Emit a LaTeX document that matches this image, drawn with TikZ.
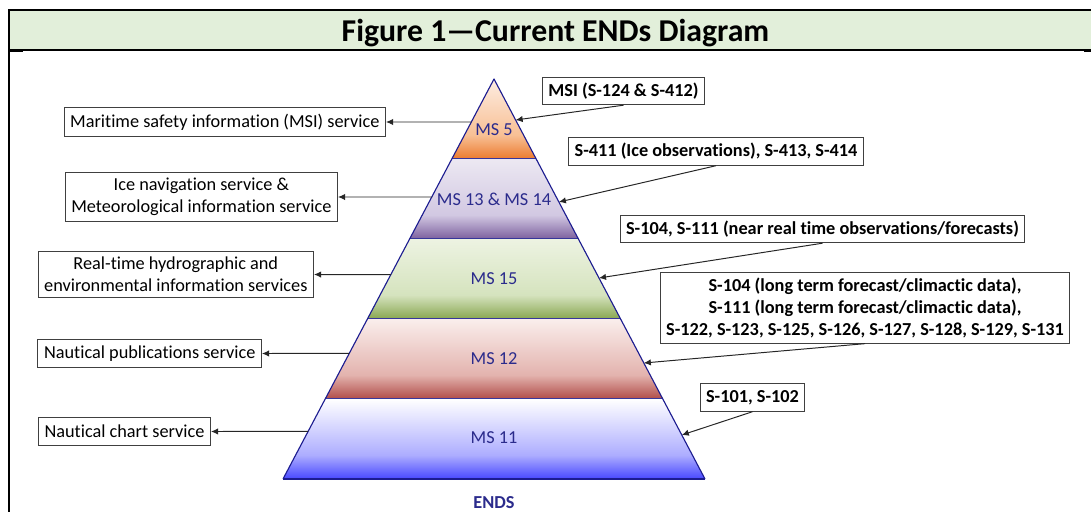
\documentclass[tikz,border=0pt]{standalone}
\usepackage{fontspec}
\setmainfont{Carlito}[Ligatures=NoCommon]
\usetikzlibrary{arrows.meta,calc}

\definecolor{bargreen}{HTML}{E2EFDA}
\definecolor{labelblue}{HTML}{2B2B8C}
\definecolor{edgeblue}{HTML}{1C1C90}
\definecolor{boxgray}{HTML}{404040}
\definecolor{fiveA}{HTML}{FDEDE2}
\definecolor{fiveB}{HTML}{F8C095}
\definecolor{fiveC}{HTML}{EC7A2E}
\definecolor{thirteenA}{HTML}{ECE8F2}
\definecolor{thirteenB}{HTML}{D2C8E2}
\definecolor{thirteenC}{HTML}{7C609E}
\definecolor{fifteenA}{HTML}{EDF3E2}
\definecolor{fifteenB}{HTML}{D5E3BE}
\definecolor{fifteenC}{HTML}{88A650}
\definecolor{twelveA}{HTML}{FAEEEC}
\definecolor{twelveB}{HTML}{E3B3AE}
\definecolor{twelveC}{HTML}{B04C48}
\definecolor{elevenA}{HTML}{FFFFFF}
\definecolor{elevenB}{HTML}{ADADFF}
\definecolor{elevenC}{HTML}{4848FF}

\newcommand{\layershading}[4]{%
  \pgfdeclareverticalshading{#1}{100bp}{color(0bp)=(#4); color(25bp)=(#4);
    color(40bp)=(#3); color(75bp)=(#2); color(100bp)=(#2)}}
\layershading{shfive}{fiveA}{fiveB}{fiveC}
\layershading{shthirteen}{thirteenA}{thirteenB}{thirteenC}
\layershading{shfifteen}{fifteenA}{fifteenB}{fifteenC}
\layershading{shtwelve}{twelveA}{twelveB}{twelveC}
\layershading{sheleven}{elevenA}{elevenB}{elevenC}

\begin{document}
\begin{tikzpicture}[x=0.025cm,y=-0.025cm,
    txt/.style={font=\fontsize{13}{15.5}\selectfont},
    svcbox/.style={txt,draw=boxgray,line width=0.7pt,fill=white,align=center,
      inner xsep=4.3pt,inner ysep=3.8pt,minimum height=20.6pt,anchor=east},
    srcbox/.style={svcbox,font=\fontsize{13}{15.5}\selectfont\bfseries,
      minimum height=19.5pt,anchor=center},
    layer/.style={txt,text=labelblue},
    arr/.style={-{Latex[length=5pt,width=4.5pt]},line width=0.7pt,draw=black!85}]
  \useasboundingbox (0,0) rectangle (1091,512);
  % title bar
  \fill[bargreen] (9,10) rectangle (1091,50);
  \draw[line width=1.4pt] (9,512) -- (9,10) -- (1091,10);
  \draw[line width=0.8pt] (9,50) -- (1091,50);
  \draw[line width=1.4pt] (9,51.5) -- (23,51.5) (1084,51.5) -- (1091,51.5);
  \node[font=\fontsize{22.6}{27}\selectfont\bfseries,anchor=base] (title) at (555.5,42)
    {Figure 1—Current ENDs Diagram};
  % pyramid
  \coordinate (top) at (494,79);
  \coordinate (bl) at (283,479);
  \coordinate (br) at (705,479);
  \foreach \k/\sh in {0/shfive,1/shthirteen,2/shfifteen,3/shtwelve,4/sheleven}{
    \pgfmathsetmacro{\a}{\k/5}
    \pgfmathsetmacro{\b}{(\k+1)/5}
    \path[shading=\sh] ($(top)!\a!(bl)$) -- ($(top)!\b!(bl)$)
      -- ($(top)!\b!(br)$) -- ($(top)!\a!(br)$) -- cycle;
    \draw[edgeblue,line width=0.8pt] ($(top)!\b!(bl)$) -- ($(top)!\b!(br)$);
  }
  \draw[edgeblue,line width=0.8pt,line join=round] (bl) -- (top) -- (br);
  \node[layer] (ms5) at (494,130) {MS 5};
  \node[layer] (ms13) at (494,199) {MS 13 \& MS 14};
  \node[layer] (ms15) at (494,279) {MS 15};
  \node[layer] (ms12) at (494,359) {MS 12};
  \node[layer] (ms11) at (494,438) {MS 11};
  \node[layer,font=\fontsize{13}{15.5}\selectfont\bfseries] (ends) at (494,503) {ENDS};
  % services
  \node[svcbox] (svcmsi) at (386,122) {Maritime safety information (MSI) service};
  \node[svcbox] (svcice) at (338,197) {Ice navigation service \&\\Meteorological information service};
  \node[svcbox] (svcrt) at (314,274.5) {Real-time hydrographic and\\environmental information services};
  \node[svcbox] (svcpub) at (262,353.5) {Nautical publications service};
  \node[svcbox] (svcchart) at (211,431.5) {Nautical chart service};
  \foreach \n/\t in {svcmsi/0.1075,svcice/0.295,svcrt/0.489,svcpub/0.686,svcchart/0.881}{
    \coordinate (out\n) at ($(top)!\t!(bl)$);
    \draw[arr] (out\n) -- (\n.east);
  }
  % products
  \node[srcbox] (srcmsi) at (623.5,91) {MSI (S-124 \& S-412)};
  \node[srcbox] (srcice) at (716,151.5) {S-411 (Ice observations), S-413, S-414};
  \node[srcbox] (srcnrt) at (822.5,229) {S-104, S-111 (near real time observations/forecasts)};
  \node[srcbox] (srclong) at (865,308) {S-104 (long term forecast/climactic data),\\
    S-111 (long term forecast/climactic data),\\
    S-122, S-123, S-125, S-126, S-127, S-128, S-129, S-131};
  \node[srcbox] (srcchart) at (752.5,397.5) {S-101, S-102};
  \foreach \n/\t in {srcmsi/0.1025,srcice/0.3075,srcnrt/0.4975,srclong/0.71,srcchart/0.89}{
    \coordinate (in\n) at ($(top)!\t!(br)$);
    \draw[arr] (\n.south) -- (in\n);
  }
\end{tikzpicture}
\end{document}
